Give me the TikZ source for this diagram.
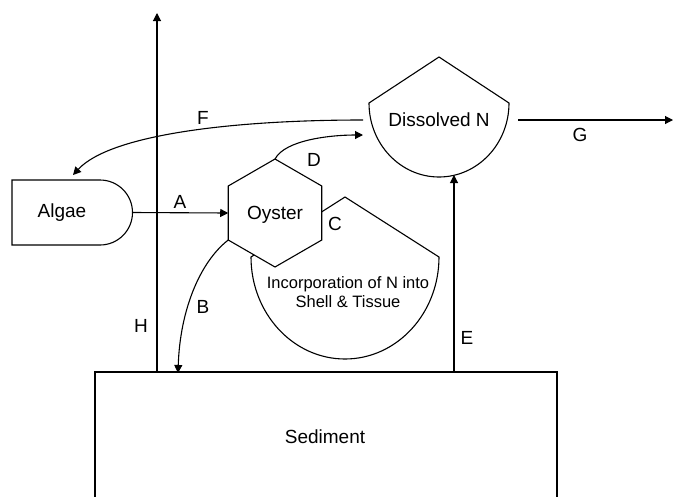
\documentclass[tikz,border=0pt]{standalone}
\usepackage{fontspec}
\setmainfont{Liberation Sans}
\usetikzlibrary{shapes.geometric,arrows.meta}
\begin{document}
\begin{tikzpicture}[x=1pt,y=-1pt,
  every node/.style={font=\fontsize{19}{22}\selectfont, inner sep=0pt, outer sep=0pt},
  shapeline/.style={draw=black, line width=1.1pt},
  arr/.style={draw=black, line width=1.1pt, -{Triangle[length=8pt,width=8pt]}},
  conn/.style={draw=black, line width=1.1pt},
  lab/.style={font=\fontsize{19}{22}\selectfont}]
\useasboundingbox (0,0) rectangle (674,496);
% Sediment
\node[draw=black, line width=1.1pt, minimum width=462pt, minimum height=136pt, anchor=north west] (sed) at (95,372) {};
\node (sedtxt) at (325,437) {Sediment};
% Algae
\draw[shapeline, fill=white] (12,180) -- (100,180) arc[start angle=-90,end angle=90,radius=32.5] -- (12,245) -- cycle;
\node (algae) at (62,212.5) {Algae};
\coordinate (algaeR) at (133,212.5);
\coordinate (algaeTop) at (73,175);
% Dissolved N
\draw[shapeline, fill=white] (439,57) -- (509,103) arc[start angle=0,end angle=180,x radius=70,y radius=74] -- cycle;
\node (dn) at (439,120) {Dissolved N};
\coordinate (dnL1) at (363,120);
\coordinate (dnL2) at (363,135);
\coordinate (dnR) at (518,120);
\coordinate (dnB) at (454,175);
\coordinate (gEnd) at (673,120);
% Incorporation shape (C)
\draw[shapeline, fill=white] (345,197) -- (439,257) arc[start angle=0,end angle=180,x radius=94,y radius=102] -- cycle;
\node[align=center, font=\fontsize{16.5}{19}\selectfont] (inc) at (348,292.5) {Incorporation of N into\\Shell \& Tissue};
% Oyster
\node[regular polygon, regular polygon sides=6, shape border rotate=30, minimum size=108pt, draw=black, line width=1.1pt, fill=white] (oy) at (275,213) {};
\node (oytxt) at (275,215) {Oyster};
% sediment points
\coordinate (hBot) at (157,372);
\coordinate (hTop) at (157,13);
\coordinate (bEnd) at (178,373);
\coordinate (eBot) at (454,372);
% connectors
\draw[arr] (algaeR) -- (oy.180);
\draw[arr] (oy.210) .. controls (200,262) and (180,310) .. (bEnd);
\draw[arr] (hBot) -- (hTop);
\draw[arr] (eBot) -- (dnB);
\draw[arr] (dnR) -- (gEnd);
\draw[arr] (dnL1) .. controls (230,120) and (110,135) .. (algaeTop);
\draw[arr] (oy.90) .. controls (285,140) and (330,135) .. (dnL2);
% labels
\node[lab] (la) at (180,202) {A};
\node[lab] (lb) at (203,307) {B};
\node[lab] (lc) at (335,224) {C};
\node[lab] (ld) at (314,160) {D};
\node[lab] (le) at (467,338) {E};
\node[lab] (lf) at (203,118) {F};
\node[lab] (lg) at (580,135) {G};
\node[lab] (lh) at (141,326) {H};
\end{tikzpicture}
\end{document}
